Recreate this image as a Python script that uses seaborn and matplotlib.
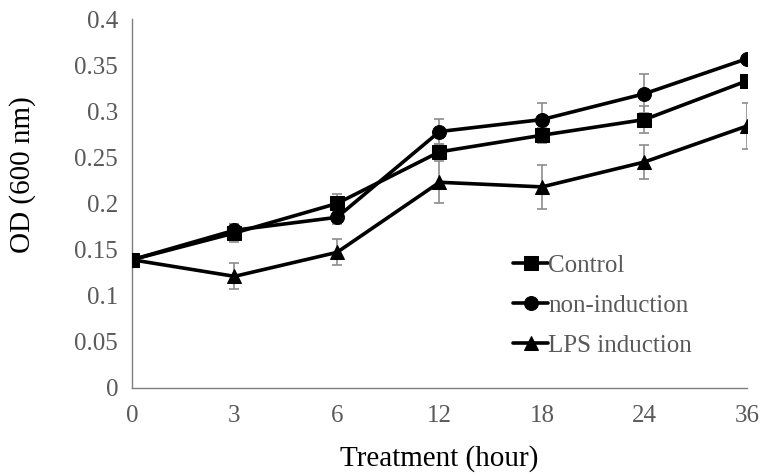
import matplotlib
matplotlib.use("Agg")
import matplotlib.pyplot as plt
import seaborn as sns
import pandas as pd
import numpy as np

hours = ["0", "3", "6", "12", "18", "24", "36"]
control = [0.139, 0.168, 0.200, 0.256, 0.274, 0.291, 0.333]
control_err = [0.004, 0.010, 0.010, 0.008, 0.008, 0.015, 0.006]
noninduction = [0.139, 0.171, 0.185, 0.278, 0.291, 0.319, 0.357]
noninduction_err = [0.004, 0.007, 0.007, 0.014, 0.018, 0.021, 0.004]
lps = [0.139, 0.121, 0.147, 0.223, 0.218, 0.245, 0.284]
lps_err = [0.004, 0.014, 0.014, 0.023, 0.024, 0.018, 0.025]

series_names = ["Control", "non-induction", "LPS induction"]
values = [control, noninduction, lps]
errors = [control_err, noninduction_err, lps_err]
markers = ["s", "o", "^"]

rows = []
for name, vals, errs in zip(series_names, values, errors):
    for i, (h, v, e) in enumerate(zip(hours, vals, errs)):
        rows.append({"pos": i, "hour": h, "OD": v, "err": e, "series": name})
df = pd.DataFrame(rows)

sns.set_style("white")
plt.rcParams["font.family"] = ["Liberation Serif", "DejaVu Serif"]

fig = plt.figure(figsize=(7.63, 4.76), dpi=100)
ax = fig.add_axes([0.173, 0.185, 0.806, 0.775])

gray = "#7f7f7f"
for name in series_names:
    sub = df[df.series == name]
    ax.errorbar(sub["pos"], sub["OD"], yerr=sub["err"], fmt="none",
                ecolor="#8c8c8c", elinewidth=1.2, capsize=3.5, capthick=1.2, zorder=1)

sns.lineplot(data=df, x="pos", y="OD", hue="series", style="series",
             markers=dict(zip(series_names, markers)), dashes=False,
             palette=["black"] * 3, linewidth=2.6, markersize=10,
             markeredgecolor="black", ax=ax, zorder=3, legend=True)

ax.set_xlim(0, len(hours) - 1)
ax.set_ylim(0, 0.4)
ax.set_xticks(range(len(hours)))
ax.set_xticklabels(hours)
yt = [0, 0.05, 0.1, 0.15, 0.2, 0.25, 0.3, 0.35, 0.4]
ax.set_yticks(yt)
ax.set_yticklabels([f"{t:g}" for t in yt])

for s in ["top", "right"]:
    ax.spines[s].set_visible(False)
for s in ["left", "bottom"]:
    ax.spines[s].set_color(gray)
    ax.spines[s].set_linewidth(1.0)

ax.tick_params(axis="both", direction="in", length=7, width=1.0, color=gray,
               labelsize=18, labelcolor="#595959", pad=10)
ax.tick_params(axis="x", pad=12)

ax.set_xlabel("Treatment (hour)", fontsize=21, color="black", labelpad=13)
ax.set_ylabel("OD (600 nm)", fontsize=21, color="black")
ax.yaxis.set_label_coords(-0.156, 0.577)

handles, labels = ax.get_legend_handles_labels()
leg = ax.legend(handles, labels, loc="upper left", bbox_to_anchor=(0.60, 0.395),
                frameon=False, fontsize=18, handlelength=1.4, handletextpad=0.0,
                labelspacing=0.7, borderpad=0)
for t in leg.get_texts():
    t.set_color("#595959")

fig.savefig("out.png", dpi=100)
